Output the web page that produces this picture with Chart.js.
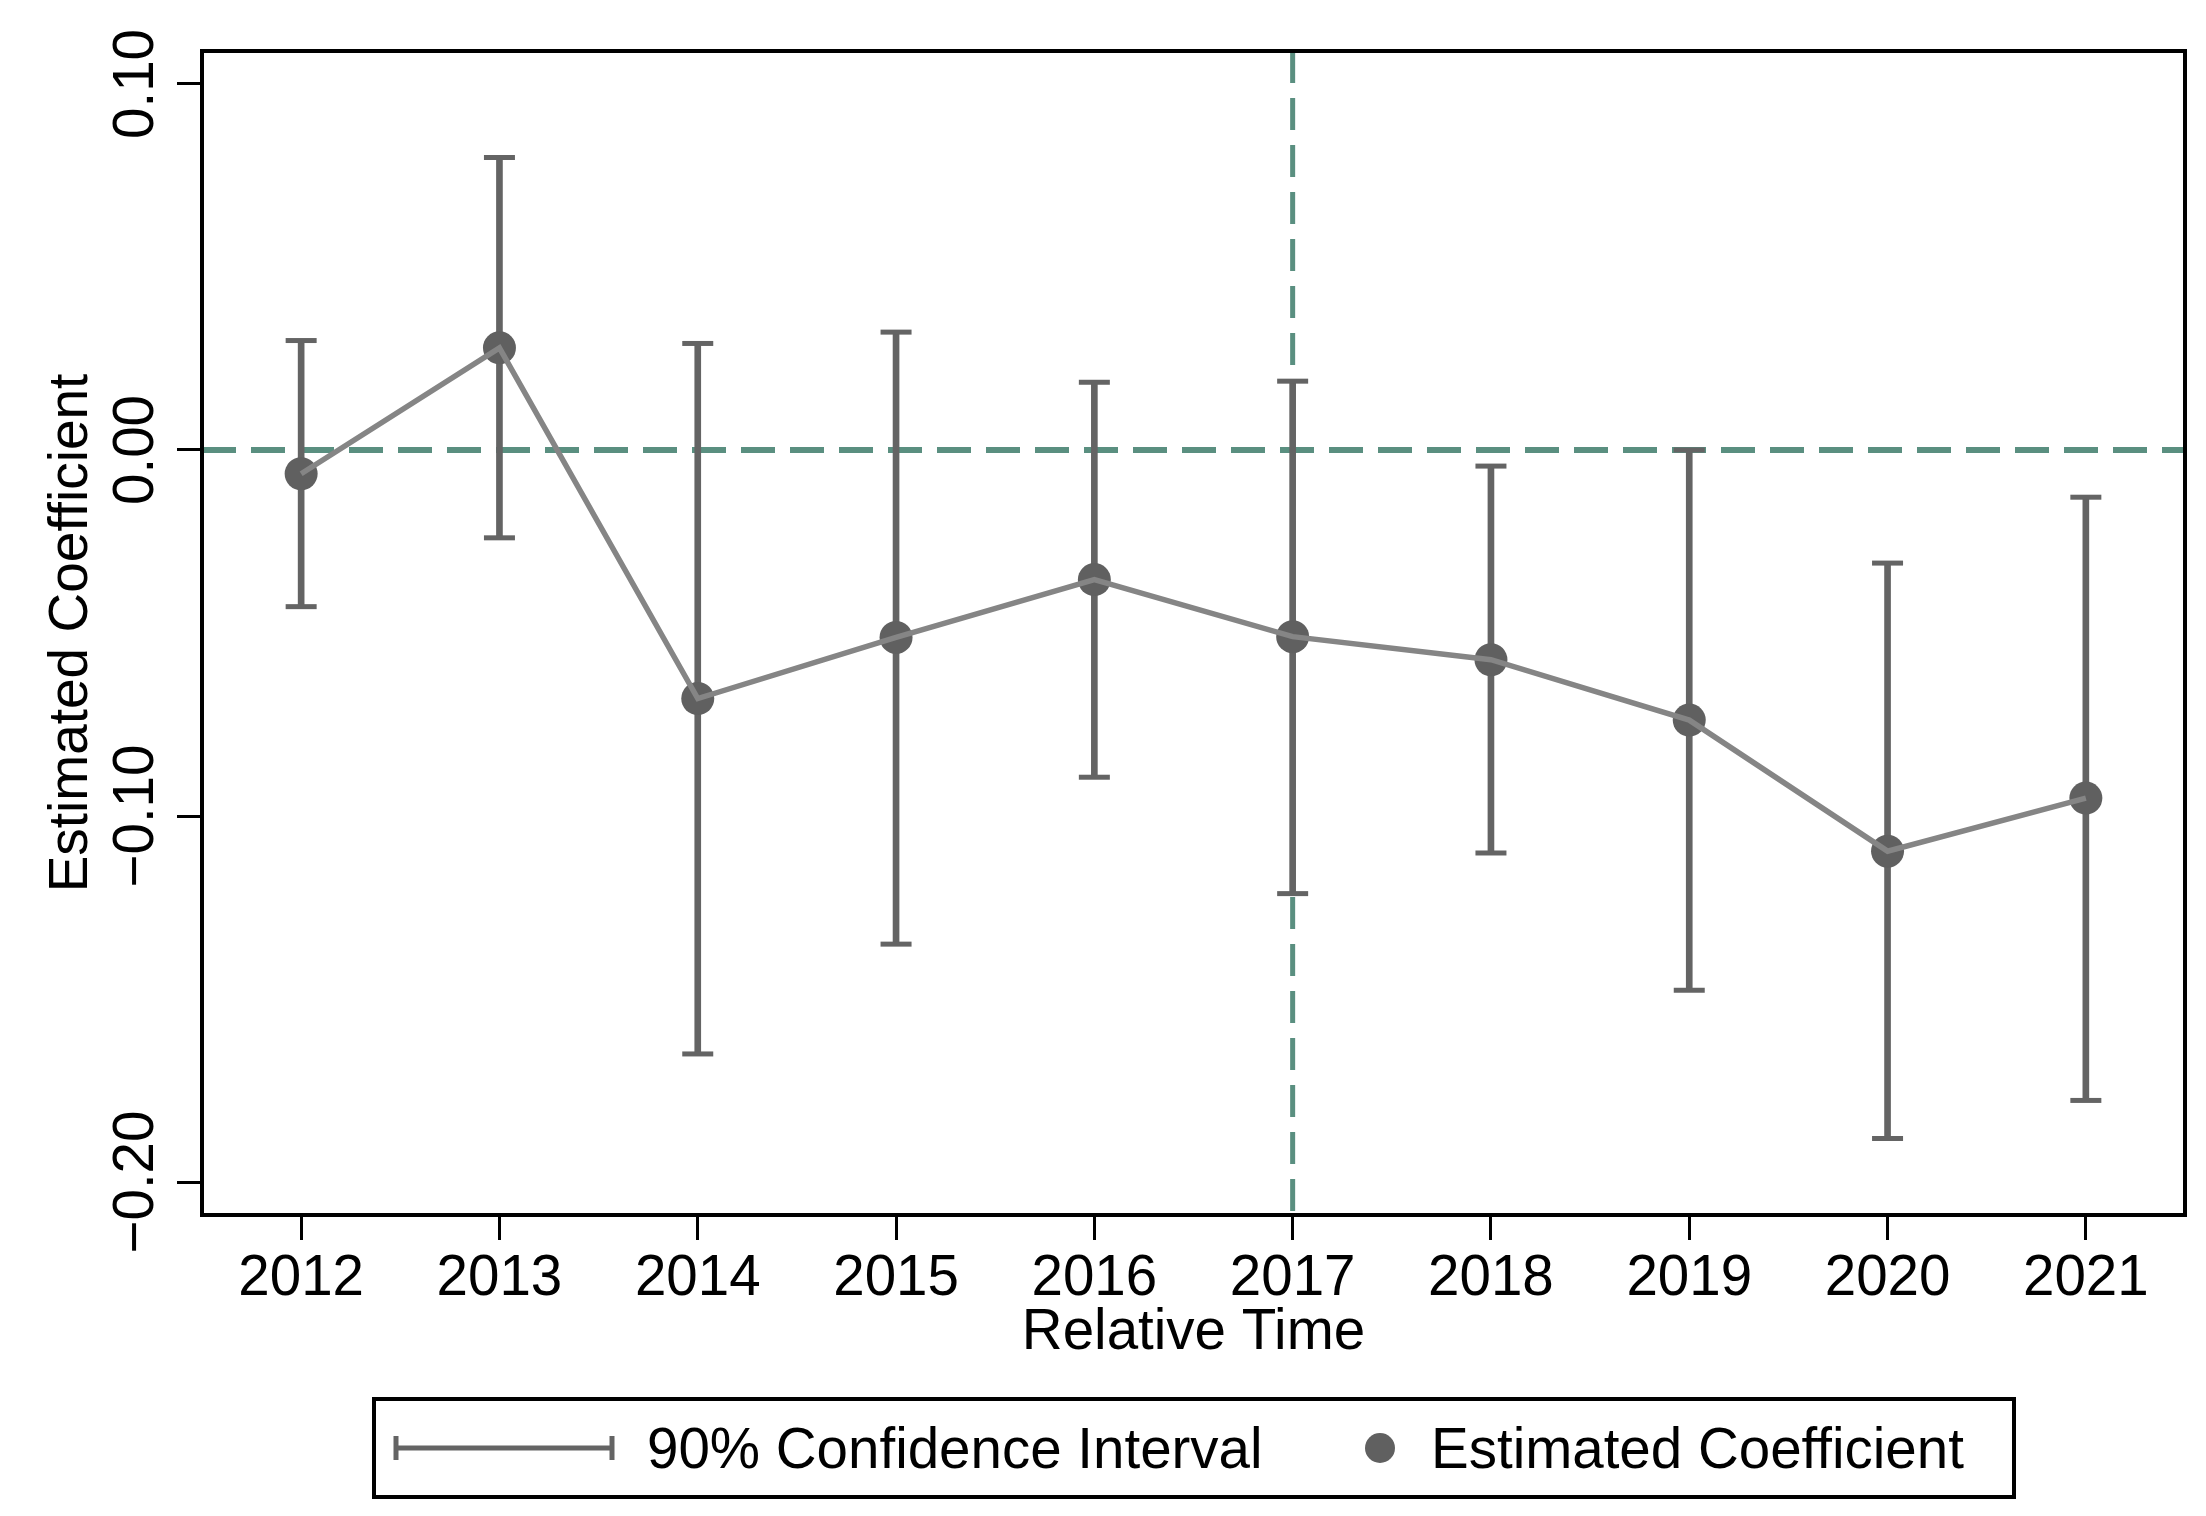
<!DOCTYPE html>
<html>
<head>
<meta charset="utf-8">
<script src="https://cdn.jsdelivr.net/npm/chart.js@4.4.1/dist/chart.umd.min.js"></script>
<style>
  html, body { margin: 0; padding: 0; background: #ffffff; }
  #wrap { width: 2206px; height: 1516px; }
  canvas { display: block; }
</style>
</head>
<body>
<div id="wrap"><canvas id="c" width="2206" height="1516"></canvas></div>
<script>
// ---- data ----
const years = [2012, 2013, 2014, 2015, 2016, 2017, 2018, 2019, 2020, 2021];
const xTickLabels = ['2012', '2013', '2014', '2015', '2016', '2017', '2018', '2019', '2020', '2021'];
const coef   = [-0.0065, 0.0279, -0.0679, -0.0512, -0.0354, -0.0510, -0.0573, -0.0738, -0.1096, -0.0951];
const ciLow  = [-0.0428, -0.0240, -0.1650, -0.1350, -0.0894, -0.1212, -0.1101, -0.1476, -0.1881, -0.1777];
const ciHigh = [ 0.0299, 0.0799, 0.0291, 0.0322, 0.0185, 0.0188, -0.0044, 0.0000, -0.0309, -0.0129];
const yTicks = [-0.2, -0.1, 0, 0.1];
const yTickLabels = ['\u22120.20', '\u22120.10', '0.00', '0.10'];
const xRange = [2011.5, 2021.5];
const yRange = [-0.209, 0.109];
const refYear = 2017;
const refZero = 0;
const xTitle = 'Relative Time';
const yTitle = 'Estimated Coefficient';
const legendLabels = ['90% Confidence Interval', 'Estimated Coefficient'];

// ---- styles ----
const FONT = '"Liberation Sans", Arial, Helvetica, sans-serif';
const FS = 56.5;
const FS_TITLE = 55;
const CI_COLOR = '#646464';
const LINE_COLOR = '#858585';
const MARKER_COLOR = '#606060';
const REF_COLOR = '#5a8f80';

const borderPlugin = {
  id: 'frame',
  afterDatasetsDraw(chart) {
    const { ctx, chartArea: a } = chart;
    ctx.save();
    ctx.strokeStyle = '#000';
    ctx.lineWidth = 4;
    ctx.strokeRect(a.left, a.top, a.right - a.left, a.bottom - a.top);
    ctx.restore();
  }
};

const yLabelPlugin = {
  id: 'yLabels',
  afterDraw(chart) {
    const { ctx } = chart;
    const ys = chart.scales.y;
    ctx.save();
    ctx.fillStyle = '#000';
    ctx.font = FS + 'px ' + FONT;
    ctx.textAlign = 'center';
    ctx.textBaseline = 'alphabetic';
    yTicks.forEach((v, i) => {
      const py = ys.getPixelForValue(v);
      ctx.save();
      ctx.translate(153, py);
      ctx.rotate(-Math.PI / 2);
      ctx.fillText(yTickLabels[i], 0, 0);
      ctx.restore();
    });
    ctx.restore();
  }
};

const legendPlugin = {
  id: 'boxLegend',
  afterDraw(chart) {
    const { ctx } = chart;
    ctx.save();
    ctx.strokeStyle = '#000';
    ctx.lineWidth = 4;
    ctx.strokeRect(374, 1399, 1640, 98);
    const cy = 1448;
    ctx.strokeStyle = CI_COLOR;
    ctx.lineWidth = 5;
    ctx.beginPath();
    ctx.moveTo(396, cy); ctx.lineTo(612, cy);
    ctx.moveTo(396, cy - 12); ctx.lineTo(396, cy + 12);
    ctx.moveTo(612, cy - 12); ctx.lineTo(612, cy + 12);
    ctx.stroke();
    ctx.fillStyle = MARKER_COLOR;
    ctx.beginPath();
    ctx.arc(1380, cy, 15, 0, Math.PI * 2);
    ctx.fill();
    ctx.fillStyle = '#000';
    ctx.font = FS + 'px ' + FONT;
    ctx.textAlign = 'left';
    ctx.textBaseline = 'alphabetic';
    ctx.fillText(legendLabels[0], 647, 1468);
    ctx.fillText(legendLabels[1], 1431, 1468);
    ctx.restore();
  }
};

const ctx = document.getElementById('c').getContext('2d');
new Chart(ctx, {
  type: 'bar',
  data: {
    datasets: [
      {
        type: 'line',
        label: 'coef line',
        data: years.map((x, i) => ({ x, y: coef[i] })),
        borderColor: LINE_COLOR,
        borderWidth: 5.5,
        pointRadius: 0,
        fill: false,
        tension: 0,
        order: 0
      },
      {
        type: 'line',
        label: legendLabels[1],
        data: years.map((x, i) => ({ x, y: coef[i] })),
        showLine: false,
        pointStyle: 'circle',
        pointRadius: 16.5,
        pointBackgroundColor: MARKER_COLOR,
        pointBorderWidth: 0,
        order: 1
      },
      {
        type: 'line',
        label: 'ci caps',
        data: years.map((x, i) => ({ x, y: ciLow[i] })).concat(years.map((x, i) => ({ x, y: ciHigh[i] }))),
        showLine: false,
        pointStyle: 'line',
        pointRadius: 15.5,
        pointBorderColor: CI_COLOR,
        pointBorderWidth: 5,
        order: 2
      },
      {
        type: 'bar',
        label: legendLabels[0],
        data: years.map((x, i) => ({ x, y: [ciLow[i], ciHigh[i]] })),
        backgroundColor: CI_COLOR,
        borderWidth: 0,
        barThickness: 6,
        order: 3
      },
      {
        type: 'line',
        label: 'zero line',
        data: [{ x: xRange[0], y: refZero }, { x: xRange[1], y: refZero }],
        borderColor: REF_COLOR,
        borderWidth: 6,
        borderDash: [34, 15],
        pointRadius: 0,
        order: 5
      },
      {
        type: 'line',
        label: 'event line',
        data: [{ x: refYear, y: yRange[1] }, { x: refYear, y: yRange[0] }],
        borderColor: REF_COLOR,
        borderWidth: 5,
        borderDash: [32, 15],
        pointRadius: 0,
        order: 5
      }
    ]
  },
  options: {
    responsive: false,
    devicePixelRatio: 1,
    animation: false,
    events: [],
    layout: { padding: { top: 51, right: 21, left: 0, bottom: 0 } },
    plugins: { legend: { display: false }, tooltip: { enabled: false } },
    scales: {
      x: {
        type: 'linear',
        min: xRange[0],
        max: xRange[1],
        offset: false,
        afterBuildTicks(scale) { scale.ticks = years.map(v => ({ value: v })); },
        afterFit(scale) { scale.height = 301; },
        grid: { display: true, offset: false, drawOnChartArea: false, drawTicks: true, tickLength: 25, tickWidth: 3, tickColor: '#000' },
        border: { display: false },
        ticks: {
          autoSkip: false,
          maxRotation: 0,
          minRotation: 0,
          padding: 6,
          color: '#000',
          font: { family: FONT, size: FS },
          callback(value) { const i = years.indexOf(value); return i >= 0 ? xTickLabels[i] : ''; }
        },
        title: {
          display: true,
          text: xTitle,
          color: '#000',
          font: { family: FONT, size: FS },
          padding: { top: 0, bottom: 149 }
        }
      },
      y: {
        type: 'linear',
        min: yRange[0],
        max: yRange[1],
        afterBuildTicks(scale) { scale.ticks = yTicks.map(v => ({ value: v })); },
        afterFit(scale) { scale.width = 202; },
        grid: { display: true, offset: false, drawOnChartArea: false, drawTicks: true, tickLength: 25, tickWidth: 3, tickColor: '#000' },
        border: { display: false },
        ticks: { display: false },
        title: {
          display: true,
          text: yTitle,
          color: '#000',
          font: { family: FONT, size: FS_TITLE },
          padding: { top: 39, bottom: 0 }
        }
      }
    }
  },
  plugins: [borderPlugin, yLabelPlugin, legendPlugin]
});
</script>
</body>
</html>
